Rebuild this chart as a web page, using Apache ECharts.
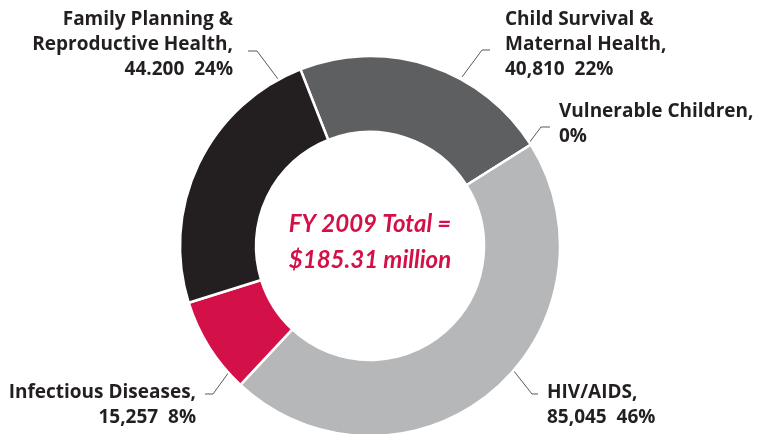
<!DOCTYPE html>
<html><head><meta charset="utf-8">
<script src="https://cdn.jsdelivr.net/npm/echarts@6/dist/echarts.min.js"></script>
<style>html,body{margin:0;padding:0;background:#fff}#c{width:766px;height:434px}</style>
</head><body><div id="c"></div>
<script>
// ---- data ----
const categories = ['Child Survival &\nMaternal Health,', 'Vulnerable Children,', 'HIV/AIDS,', 'Infectious Diseases,', 'Family Planning &\nReproductive Health,'];
const values = [40810, 0, 85045, 15257, 44200];
const valueLabels = ['40,810', '', '85,045', '15,257', '44.200'];
const percentLabels = ['22%', '0%', '46%', '8%', '24%'];
const centerLines = ['FY 2009 Total =', '$185.31 million'];

// ---- styling / layout ----
const colors = ['#5e5f61', '#b6b7b9', '#b6b7b9', '#d31148', '#231f20'];
const labelPlacement = [
  { x: 505, y: 45, align: 'left', line: [[462, 77], [482, 50], [490, 50]] },
  { x: 559, y: 124, align: 'left', line: [[529, 143], [541, 127], [550, 127]] },
  { x: 547, y: 405, align: 'left', line: [[513, 370], [532, 394], [538, 394]] },
  { x: 196, y: 405, align: 'right', line: [[229, 372], [213, 394], [205, 394]] },
  { x: 233, y: 45, align: 'right', line: [[278, 79], [257, 51], [248, 51]] }
];
const LABEL_FONT = '"Open Sans", Lato, sans-serif';
const CENTER_FONT = 'Lato, "Open Sans", sans-serif';

const chart = echarts.init(document.getElementById('c'), null, { renderer: 'canvas' });
chart.setOption({
  animation: false,
  backgroundColor: '#ffffff',
  series: [{
    type: 'pie',
    center: [370, 246],
    radius: [114, 190],
    startAngle: 111.5,
    clockwise: true,
    avoidLabelOverlap: false,
    minShowLabelAngle: -1,
    data: categories.map((name, i) => ({
      name: name,
      value: values[i],
      itemStyle: { color: colors[i] }
    })),
    itemStyle: { borderColor: '#ffffff', borderWidth: 2.5 },
    label: {
      show: true,
      position: 'outside',
      color: '#231f20',
      fontFamily: LABEL_FONT,
      fontWeight: 'bold',
      fontSize: 19,
      lineHeight: 25,
      formatter: p => {
        const i = p.dataIndex;
        return categories[i] + '\n' + (valueLabels[i] ? valueLabels[i] + '  ' : '') + percentLabels[i];
      }
    },
    labelLine: { show: true, lineStyle: { color: '#58595b', width: 1 } },
    labelLayout: p => {
      const c = labelPlacement[p.dataIndex];
      return { x: c.x, y: c.y, align: c.align, verticalAlign: 'middle', labelLinePoints: c.line };
    },
    emphasis: { disabled: true }
  }],
  graphic: [{
    type: 'text',
    x: 370,
    y: 242,
    style: {
      text: centerLines.join('\n'),
      fill: '#d31148',
      font: 'italic bold 24px ' + CENTER_FONT,
      lineHeight: 36,
      align: 'center',
      verticalAlign: 'middle'
    }
  }]
});
</script>
</body></html>
